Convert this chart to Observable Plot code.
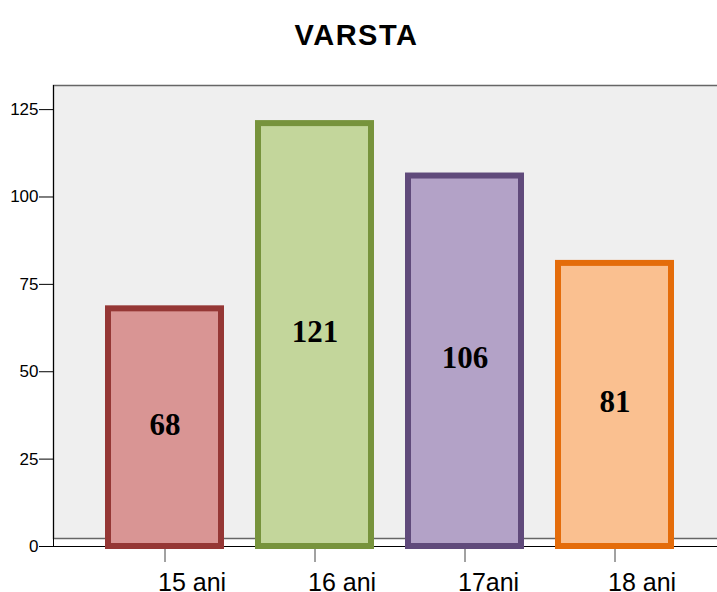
<!DOCTYPE html>
<html>
<head>
<meta charset="utf-8">
<script src="https://cdn.jsdelivr.net/npm/d3@7"></script>
<script src="https://cdn.jsdelivr.net/npm/@observablehq/plot@0.6"></script>
<style>
  html, body { margin: 0; padding: 0; background: white; }
  #title { width: 717px; height: 60px; box-sizing: border-box; padding-top: 19px; line-height: 28px;
           text-align: center; font: bold 29px "Liberation Sans", Arial, sans-serif; letter-spacing: 1.5px; color: black; padding-right: 4px; }
</style>
</head>
<body>
<div id="title">VARSTA</div>
<div id="chart"></div>
<script>
const categories = ["15 ani", "16 ani", "17ani", "18 ani"];
const counts = [68, 121, 106, 81];
const fills = ["#d99594", "#c3d69b", "#b3a2c7", "#fac090"];
const strokes = ["#953735", "#77933c", "#604a7b", "#e46c0a"];
const yTicks = [0, 25, 50, 75, 100, 125];

const data = categories.map((c, i) => ({category: c, value: counts[i], fill: fills[i], stroke: strokes[i]}));

const chart = Plot.plot({
  width: 717,
  height: 532,
  marginTop: 25,
  marginBottom: 46,
  marginLeft: 53,
  marginRight: 0,
  style: {fontFamily: "'Liberation Sans', Arial, sans-serif", fontSize: "17px", background: "white", color: "black", overflow: "visible"},
  x: {domain: categories, paddingInner: 0.25, paddingOuter: 0.125, insetLeft: 34.7, insetRight: 26.5, axis: null, label: null},
  y: {domain: [0, 131.9], axis: null, label: null},
  marks: [
    Plot.frame({fill: "#efefef", stroke: null, insetBottom: 8, insetRight: -3}),
    Plot.frame({fill: "none", stroke: "#666", strokeWidth: 1.5, insetBottom: 8, insetRight: -3}),
    Plot.ruleY([0], {stroke: "black", strokeWidth: 1}),
    Plot.frame({anchor: "left", stroke: "black", strokeWidth: 1}),
    Plot.axisY({ticks: yTicks, label: null, tickSize: 14, tickPadding: 1, fontSize: 17, stroke: "black", strokeOpacity: 1, fill: "black"}),
    Plot.axisX({label: null, text: null, tickSize: 16, stroke: "#444"}),
    Plot.axisX({label: null, tickSize: 0, tickPadding: 27, fontSize: 25, textAnchor: "start", dx: -7, fill: "black"}),
    Plot.barY(data, {x: "category", y: "value", fill: d => d.fill, stroke: d => d.stroke, strokeWidth: 6}),
    Plot.text(data, {x: "category", y: d => d.value / 2, text: d => String(d.value), fontSize: 31, fontWeight: "bold",
                     fontFamily: "'Liberation Serif', 'Times New Roman', serif", fill: "black", lineAnchor: "middle", dy: -3})
  ]
});
document.getElementById("chart").appendChild(chart);
</script>
</body>
</html>
